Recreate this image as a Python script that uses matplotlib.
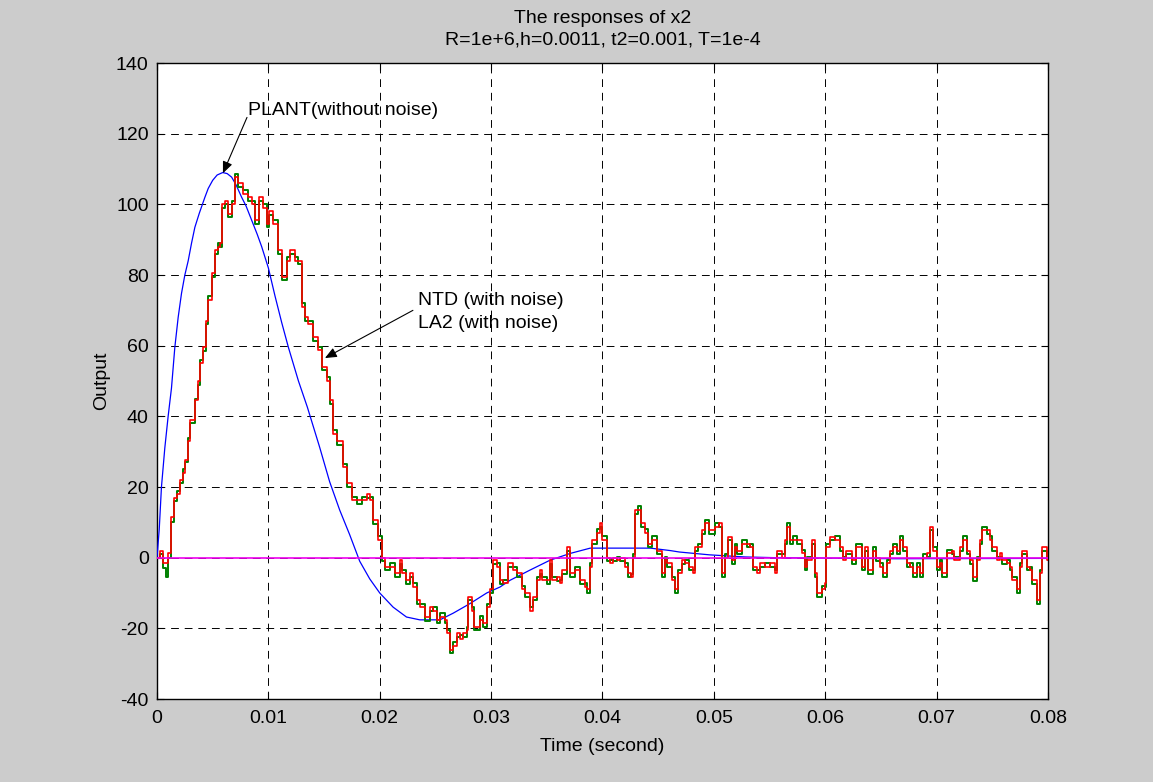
import matplotlib
matplotlib.use("Agg")
import matplotlib.pyplot as plt
import numpy as np

plt.rcParams['font.family'] = ['Liberation Sans', 'DejaVu Sans']
plt.rcParams['axes.unicode_minus'] = False

# Sample period of the simulation (s)
T = 1e-4

# Plant response x2 (no noise): sample index, value
plant_k = [0, 2, 4, 7, 10, 13, 16, 19, 22, 25, 28, 31, 34, 38, 43, 46, 50, 54, 59,
           63, 67, 71, 76, 80, 85, 90, 94, 100, 106, 112, 118, 127, 135, 146, 155,
           164, 173, 182, 191, 200, 212, 224, 236, 254, 266, 281, 296, 308, 317,
           335, 353, 371, 389, 407, 425, 443, 461, 469, 496, 528, 555, 664, 800]
plant_x2 = [0, 8, 20, 31, 40, 48, 59.5, 68, 74.8, 80, 84, 89, 93.5, 97.5, 102,
            104.5, 106.8, 108.3, 109, 108.7, 107.7, 105.5, 102, 99.5, 95.5, 91.5,
            88, 82, 74, 66.5, 59.5, 50, 42.6, 31.3, 21.5, 13.5, 6.5, -1, -6, -10,
            -14, -16.8, -17.6, -17.6, -15.7, -13, -10, -8.3, -6.4, -3.5, -0.7, 1.2,
            2.7, 2.7, 2.7, 2.7, 2, 1.6, 0.8, 0.2, 0, -0.3, -0.2]

# Noisy estimates: sample index and values for LA2 (red) and NTD (green)
noisy_k = [
    0, 3, 5, 8, 10, 13, 15, 18, 21, 23, 25, 28, 30, 34, 37, 39, 41, 44, 46, 49,
    52, 55, 57, 58, 61, 64, 67, 70, 73, 77, 82, 85, 88, 92, 95, 99, 101, 104, 109, 112,
    117, 119, 124, 127, 130, 133, 136, 140, 145, 148, 153, 155, 158, 162, 167, 171, 175, 180, 184, 189,
    191, 194, 198, 202, 205, 209, 214, 218, 220, 224, 227, 230, 233, 236, 241, 245, 248, 251, 254, 259,
    260, 263, 266, 269, 272, 275, 278, 279, 283, 285, 290, 293, 296, 299, 302, 305, 308, 311, 315, 320,
    323, 328, 330, 335, 338, 341, 344, 346, 350, 353, 355, 359, 362, 364, 368, 371, 375, 380, 384, 386,
    389, 391, 395, 398, 400, 404, 407, 409, 413, 416, 420, 423, 426, 427, 429, 432, 435, 438, 441, 444,
    449, 453, 456, 458, 462, 465, 468, 471, 474, 478, 481, 483, 486, 489, 492, 496, 501, 505, 507, 510,
    513, 516, 519, 521, 525, 530, 532, 535, 539, 541, 546, 550, 555, 557, 561, 564, 566, 568, 571, 575,
    579, 582, 584, 588, 591, 593, 597, 600, 601, 604, 609, 613, 616, 619, 624, 628, 633, 636, 638, 643,
    646, 649, 652, 655, 658, 661, 664, 667, 670, 673, 676, 679, 682, 685, 688, 691, 694, 697, 700, 703,
    705, 709, 714, 716, 721, 724, 727, 730, 733, 736, 739, 741, 745, 748, 750, 754, 757, 759, 763, 766,
    768, 772, 775, 777, 781, 784, 786, 790, 793, 795, 799, 800]

la2_x2 = [
    0, 2, -1.5, -1.5, 1.3, 11.5, 17, 18, 22, 24, 27.6, 33, 39, 44.6, 50, 55, 59.5, 67, 73, 80.5,
    87, 88, 89, 100, 101, 97.4, 100, 107.7, 106, 103, 102, 100, 95.5, 102, 99, 94.5, 98, 94.5, 87, 79.4,
    84, 87, 84, 84, 71, 68, 66, 62.4, 58.7, 54, 50, 44.6, 35, 33, 25.6, 21, 16.3, 16.3, 16.3, 18,
    16.3, 10.6, 5, 0, -2.6, -2.6, -4.4, -0.7, -4.4, -6.4, -4.4, -8.3, -12, -14, -16.8, -14, -15, -17.6, -16.8, -17.6,
    -21.4, -26, -25, -21.4, -23, -21.4, -20.5, -11, -15, -19.6, -17.6, -18.6, -14, -9, -0.7, -2.6, -6.4, -7.3, -1.6, -3.5,
    -4.4, -9, -10, -15, -11, -6.4, -3.5, -6.4, -6.4, -0.7, -6.4, -5.5, -7.3, -3.5, 3, -4.4, -3.5, -6.4, -8.3, -9,
    -2.6, 5, 7, 9.8, 5, 0, -1.6, 0, -0.7, 0, -2.6, -4.4, -5.5, 0, 13.5, 13.5, 9.8, 7, 4, 5,
    2, -4.4, -0.7, -1.6, -6.4, -9, -4.4, -0.7, -1.6, -2.6, -4.4, 3, 3, 7.8, 9.8, 7.8, 8.7, 9.8, -4.4, 0,
    5.9, -0.7, 3, 2, 4, 4, 3, -2.6, -4.4, -1.6, -2.6, -1.6, -4.4, 2, 0, 5, 8.7, 5, 5, 5,
    1.2, -2.6, -0.7, 5, -4.4, -10, -9, -7.3, 3, 5.9, 5, 3, -0.7, 2, -0.7, 3, -2.6, 3, -3.5, 2,
    0, -2.6, -4.4, -1.6, 2, 3, 2, 5, 3, -1.6, -2.6, -4.4, -2.6, -4.4, 0, 1.2, 8.7, 2, -2.6, -1.6,
    -4.4, 1.2, 2, -0.7, 3, 5, 2, -0.7, -5.5, -0.7, 5, 7.8, 7.8, 5, 3, -0.7, 1.2, -0.7, -1.6, -2.6,
    -6.4, -9, -2.6, 2, -2.6, -3.5, -6.4, -12, -4.4, 3, -0.7, -0.7]

ntd_x2 = [
    0, 1, -3, -5.5, 0, 10, 16, 19, 21, 25, 27, 34, 38, 45, 49, 56, 58.5, 66, 74, 79.5,
    86, 89, 88, 99, 100, 96.5, 101, 108.5, 105, 104, 101, 101, 94.5, 101, 100, 93.5, 97, 95.5, 86, 78.5,
    85, 86, 85, 83, 72, 67, 67, 61.4, 59.7, 53, 51, 43.6, 36, 32, 26.6, 20, 17.3, 15.3, 17.3, 17,
    17.3, 9.6, 6, -1, -3.6, -1.6, -5.4, -1.7, -3.4, -7.4, -5.4, -7.3, -13, -13, -17.8, -15, -14, -18.6, -15.8, -18.6,
    -20.4, -27, -24, -22.4, -22, -22.4, -19.5, -12, -14, -20.6, -16.6, -19.6, -13, -10, -1.7, -1.6, -7.4, -6.3, -2.6, -2.5,
    -5.4, -8, -11, -14, -12, -5.4, -4.5, -5.4, -7.4, -1.7, -5.4, -6.5, -6.3, -4.5, 2, -5.4, -2.5, -7.4, -7.3, -10,
    -1.6, 4, 8, 8.8, 6, -1, -0.6, -1, 0.3, -1, -1.6, -5.4, -4.5, 1, 12.5, 14.5, 8.8, 8, 3, 6,
    1, -5.4, 0.3, -2.6, -5.4, -10, -3.4, -1.7, -0.6, -3.6, -3.4, 2, 4, 6.8, 10.8, 6.8, 9.7, 8.8, -5.4, 1,
    4.9, -1.7, 4, 1, 5, 3, 4, -3.6, -3.4, -2.6, -1.6, -2.6, -3.4, 1, 1, 4, 9.7, 4, 6, 4,
    2.2, -3.6, 0.3, 4, -5.4, -11, -8, -8.3, 4, 4.9, 6, 2, 0.3, 1, -1.7, 4, -3.6, 2, -4.5, 3,
    -1, -1.6, -5.4, -0.6, 1, 4, 1, 6, 2, -2.6, -1.6, -5.4, -1.6, -5.4, 1, 0.2, 7.7, 3, -3.6, -0.6,
    -5.4, 2.2, 1, 0.3, 2, 6, 1, -1.7, -6.5, 0.3, 4, 8.8, 6.8, 6, 2, 0.3, 0.2, -1.7, -0.6, -3.6,
    -5.4, -10, -1.6, 1, -3.6, -2.5, -7.4, -13, -3.4, 2, 0.3, -0.7]

# Reference (zero) signal
ref_t = [0.0, 0.08]
ref_x2 = [0, 0]

FS = 14

fig = plt.figure(figsize=(11.53, 7.82), dpi=100, facecolor='#cccccc')
ax = fig.add_axes([157 / 1153, 1 - 699 / 782, (1048 - 157) / 1153, (699 - 63) / 782])
ax.set_facecolor('white')

ax.plot(np.array(plant_k) * T, plant_x2, color='#0000ff', lw=0.9, zorder=3)
ax.plot(np.array(noisy_k) * T, ntd_x2, color='#008000', lw=1.4, drawstyle='steps-post', zorder=4)
ax.plot(np.array(noisy_k) * T, la2_x2, color='#ff0000', lw=1.2, drawstyle='steps-post', zorder=5)
ax.plot(ref_t, ref_x2, color='#ee00ee', lw=1.2, zorder=6)

ax.set_xlim(0, 0.08)
ax.set_ylim(-40, 140)
ax.set_xticks(np.arange(0, 0.081, 0.01))
ax.set_xticklabels(['0', '0.01', '0.02', '0.03', '0.04', '0.05', '0.06', '0.07', '0.08'])
ax.set_yticks(np.arange(-40, 141, 20))

ax.grid(True, color='black', linestyle=(0, (8, 6)), linewidth=0.7)
ax.tick_params(direction='in', length=5, width=0.8, top=True, right=True,
               labelsize=FS, colors='black')
ax.tick_params(axis='x', pad=8)
ax.tick_params(axis='y', pad=6)
for sp in ax.spines.values():
    sp.set_linewidth(1.0)
    sp.set_color('black')

ax.set_title('The responses of x2\nR=1e+6,h=0.0011, t2=0.001, T=1e-4',
             fontsize=FS, pad=13, linespacing=1.35)
ax.set_xlabel('Time (second)', fontsize=FS, labelpad=8)
ax.set_ylabel('Output', fontsize=FS, labelpad=4)

arrow_kw = dict(arrowstyle='-|>,head_length=0.7,head_width=0.3', color='black',
                lw=0.8, shrinkA=0, shrinkB=0)
ax.text(0.00817, 126.6, 'PLANT(without noise)', fontsize=FS, ha='left', va='center', zorder=7)
ax.annotate('', xy=(0.00592, 108.8), xytext=(0.00808, 124.6), arrowprops=arrow_kw, zorder=7)
ax.text(0.02343, 69.5, 'NTD (with noise)\nLA2 (with noise)', fontsize=FS, ha='left',
        va='center', linespacing=1.5, zorder=7)
ax.annotate('', xy=(0.01508, 56.5), xytext=(0.02298, 70.0), arrowprops=arrow_kw, zorder=7)

fig.savefig('out.png', dpi=100, facecolor=fig.get_facecolor())
